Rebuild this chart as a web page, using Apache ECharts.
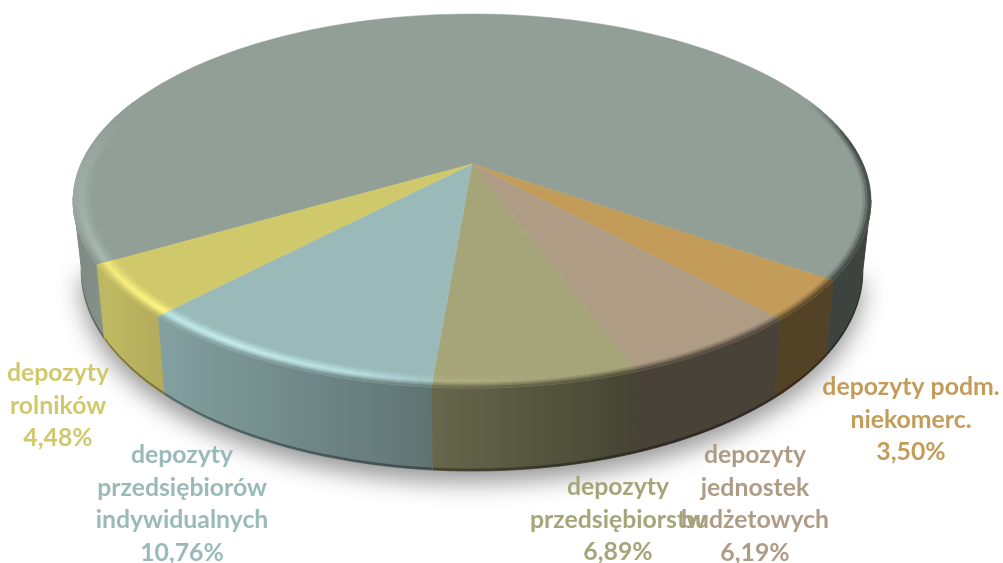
<!DOCTYPE html>
<html>
<head>
<meta charset="utf-8">
<style>
html,body{margin:0;padding:0;background:#fff;}
#main{width:1003px;height:563px;}
</style>
<script src="https://cdn.jsdelivr.net/npm/echarts@6/dist/echarts.min.js"></script>
</head>
<body>
<div id="main"></div>
<script>
// slices clockwise on screen, starting at the right edge of the big slice
var categories = ['depozyty gospodarstw domowych', 'depozyty podm.\nniekomerc.', 'depozyty\njednostek\nbudżetowych', 'depozyty\nprzedsiębiorstw', 'depozyty\nprzedsiębiorów\nindywidualnych', 'depozyty\nrolników'];
var values = [68.18, 3.50, 6.19, 6.89, 10.76, 4.48];
var colors = ['#919F97', '#C49C5A', '#AE9C85', '#A6A57A', '#9ABABA', '#D0C96B'];

// label centres, the big slice has no label
var labelX = [0, 911, 755, 618, 182, 58];
var labelY = [0, 420, 504, 520, 504, 406];

// fitted from the picture: apex of the fan, perspective and radii of the disc
var cx = 472, cy = 164, persp = 0.198, radX = 391, radY = 179.7;
var startAngle = 54.9 + values[0] * 3.6;
var total = values.reduce(function(a, b){ return a + b; }, 0);

function project(deg, r) {
    var t = deg * Math.PI / 180;
    var u = r * Math.sin(t), v = r * Math.cos(t);
    var s = 1 / (1 - persp * v);
    return [cx + radX * u * s, cy + radY * v * s];
}
function projectBottom(deg, lift) {
    var p = project(deg, 1);
    var v = Math.cos(deg * Math.PI / 180);
    return [cx + (p[0] - cx) * 0.98, p[1] + 66 + 17 * v - (lift || 0)];
}
function piece(xs, ys, x) {
    if (x <= xs[0]) return ys[0];
    for (var i = 1; i < xs.length; i++) {
        if (x <= xs[i]) return ys[i-1] + (ys[i] - ys[i-1]) * (x - xs[i-1]) / (xs[i] - xs[i-1]);
    }
    return ys[ys.length-1];
}
function shade(hex, f) {
    var c = echarts.color.parse(hex);
    return 'rgb(' + Math.min(255, Math.round(c[0]*f)) + ',' + Math.min(255, Math.round(c[1]*f)) + ',' + Math.min(255, Math.round(c[2]*f)) + ')';
}
// wall brightness by screen x, rim highlight by angle from the front
function wallLight(x) {
    return piece([73, 105, 165, 433, 632, 871], [0.86, 0.92, 0.85, 0.62, 0.42, 0.42], x);
}
function rimLight(deg) {
    return piece([-110, -85, -58, -32, -15, -4, 10, 110], [1.0, 1.09, 1.18, 1.3, 1.22, 1.06, 1.0, 1.0], deg);
}
function norm(deg) {
    return ((deg + 180) % 360 + 360) % 360 - 180;
}
function quad(pts, color) {
    return {
        type: 'polygon',
        shape: {points: pts},
        silent: true,
        style: {fill: color, stroke: color, lineWidth: 0.8}
    };
}
function wallGradient(base, x0, x1, dim) {
    var stops = [];
    for (var i = 0; i <= 12; i++) {
        stops.push({offset: i / 12, color: shade(base, wallLight(x0 + (x1 - x0) * i / 12) * dim)});
    }
    return new echarts.graphic.LinearGradient(x0, 0, x1, 0, stops, true);
}
function wallPiece(angles, base) {
    var up = [], low = [], lip = [], xs = [];
    angles.forEach(function(d){
        var t = project(d, 1), b = projectBottom(d), l = projectBottom(d, 2.5);
        up.push(t);
        low.unshift(b);
        lip.push(l);
        xs.push(t[0], b[0]);
    });
    var x0 = Math.min.apply(null, xs), x1 = Math.max.apply(null, xs);
    var fill = wallGradient(base, x0, x1, 1);
    return [{
        type: 'polygon',
        shape: {points: up.concat(low)},
        silent: true,
        style: {fill: fill, stroke: fill, lineWidth: 1}
    }, {
        type: 'polygon',
        shape: {points: lip.concat(low)},
        silent: true,
        style: {fill: wallGradient(base, x0, x1, 0.66)}
    }];
}

function renderSlice(params, api) {
    var i = params.dataIndex;
    var before = 0;
    for (var k = 0; k < i; k++) before += values[k];
    var a0 = echarts.number.linearMap(before, [0, total], [startAngle, startAngle - 360]);
    var a1 = echarts.number.linearMap(before + api.value(0), [0, total], [startAngle, startAngle - 360]);
    var base = colors[i];
    var children = [];
    var n = Math.max(2, Math.ceil((a0 - a1) / 2));
    var step = (a0 - a1) / n;
    var j, d;

    // outer wall, only up to where the rim turns away from the viewer
    var run = [];
    for (j = 0; j <= n; j++) {
        d = a0 - j * step;
        if (Math.abs(norm(d)) <= 80) {
            run.push(d);
        } else if (run.length) {
            if (run.length > 1) children = children.concat(wallPiece(run, base));
            run = [];
        }
    }
    if (run.length > 1) children = children.concat(wallPiece(run, base));

    // top face
    var top = [[cx, cy]];
    for (j = 0; j <= n; j++) top.push(project(a0 - j * step, 1));
    children.push({
        type: 'polygon',
        shape: {points: top},
        silent: true,
        style: {fill: base, stroke: base, lineWidth: 0.5}
    });

    // rounded rim, drawn as thin rings between face and wall
    var rings = 7, rIn = 0.955;
    for (j = 0; j < n; j++) {
        d = a0 - j * step;
        var mid = norm(d - step / 2);
        if (Math.abs(mid) > 112) continue;
        var fade = Math.min(1, (112 - Math.abs(mid)) / 14);
        var pm = project(mid, 1);
        var peak = rimLight(mid);
        var outer = wallLight(pm[0]);
        // far left the rim stays light right up to the edge
        if (mid < -58) outer = outer + (peak * 0.98 - outer) * Math.min(1, (-58 - mid) / 25);
        for (var q = 0; q < rings; q++) {
            var t = (q + 0.5) / rings;
            var g = t < 0.55 ? 1 + (peak - 1) * t / 0.55 : peak + (outer - peak) * (t - 0.55) / 0.45;
            g = 1 + (g - 1) * fade;
            var r0 = rIn + (1 - rIn) * q / rings, r1 = rIn + (1 - rIn) * (q + 1) / rings;
            children.push(quad([project(d, r0), project(d - step, r0), project(d - step, r1), project(d, r1)], shade(base, g)));
        }
    }

    if (i > 0) {
        children.push({
            type: 'text',
            z2: 50,
            silent: true,
            style: {
                x: labelX[i],
                y: labelY[i],
                text: categories[i] + '\n' + api.value(0).toFixed(2).replace('.', ',') + '%',
                fill: base,
                font: '700 24.8px Lato',
                align: 'center',
                verticalAlign: 'middle',
                lineHeight: 32.5
            }
        });
    }
    return {type: 'group', children: children};
}

function renderShadow() {
    var pts = [];
    for (var d = -80; d <= 80; d += 3) pts.push(projectBottom(d));
    return {
        type: 'polygon',
        shape: {points: pts},
        silent: true,
        style: {fill: '#fff', shadowBlur: 24, shadowColor: 'rgba(0,0,0,0.42)', shadowOffsetY: 11}
    };
}

var dom = document.getElementById('main');
var myChart = echarts.init(dom);
var option = {
    backgroundColor: '#fff',
    animation: false,
    series: [{
        type: 'custom',
        coordinateSystem: 'none',
        silent: true,
        data: [0],
        renderItem: renderShadow
    }, {
        type: 'custom',
        coordinateSystem: 'none',
        silent: true,
        data: values,
        renderItem: renderSlice
    }]
};
myChart.setOption(option, true);
</script>
</body>
</html>
